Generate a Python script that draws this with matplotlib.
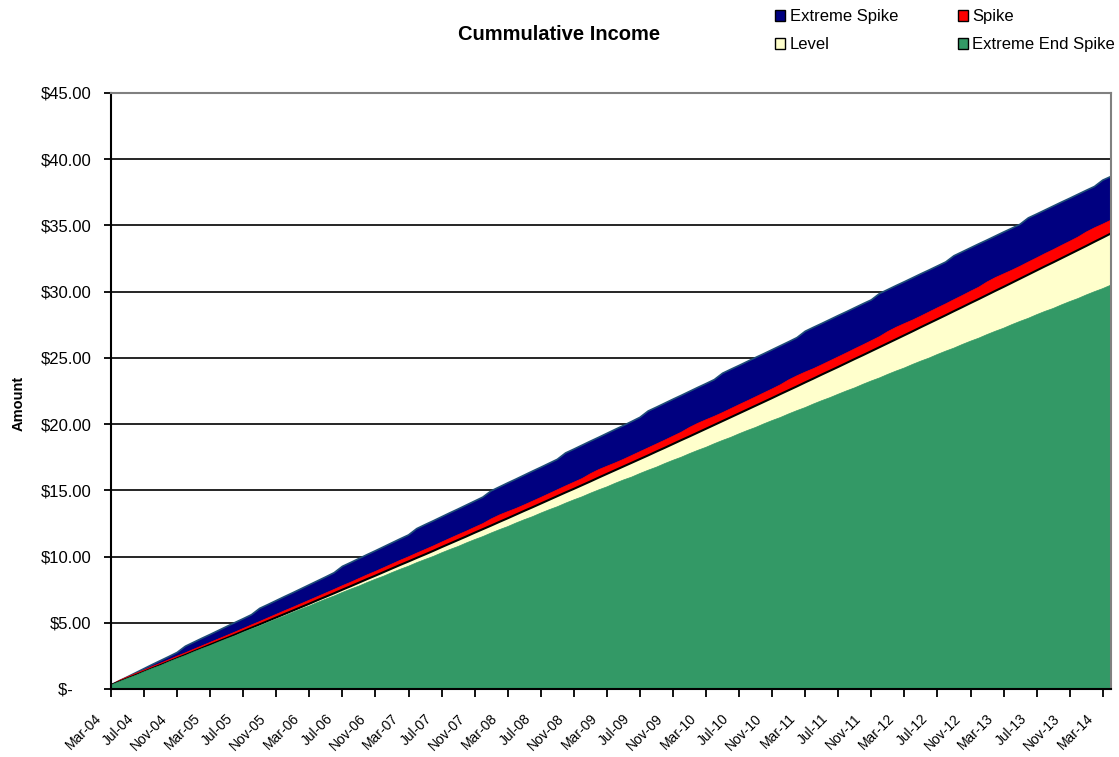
import matplotlib
matplotlib.use("Agg")
import matplotlib.pyplot as plt
import matplotlib.transforms as mtransforms
from matplotlib.patches import Patch
import pandas as pd
import numpy as np

plt.rcParams['font.family'] = ['Liberation Sans', 'DejaVu Sans']

# ---------------- data ----------------
months = list(pd.date_range('2004-03-01', periods=122, freq='MS').strftime('%b-%y'))

extreme_spike = [
    0.30, 0.62, 0.92, 1.23, 1.54, 1.85, 2.15, 2.45, 2.76, 3.23,
    3.53, 3.83, 4.12, 4.42, 4.72, 5.02, 5.31, 5.61, 6.09, 6.38,
    6.68, 6.98, 7.27, 7.57, 7.87, 8.17, 8.47, 8.78, 9.26, 9.55,
    9.85, 10.15, 10.44, 10.74, 11.04, 11.34, 11.63, 12.11, 12.41, 12.70,
    13.00, 13.30, 13.59, 13.89, 14.19, 14.49, 14.96, 15.26, 15.56, 15.85,
    16.15, 16.45, 16.74, 17.04, 17.34, 17.82, 18.11, 18.41, 18.71, 19.00,
    19.30, 19.60, 19.89, 20.20, 20.51, 20.99, 21.28, 21.58, 21.88, 22.17,
    22.47, 22.77, 23.06, 23.36, 23.84, 24.14, 24.43, 24.73, 25.03, 25.32,
    25.62, 25.92, 26.22, 26.53, 27.01, 27.31, 27.60, 27.90, 28.20, 28.49,
    28.79, 29.09, 29.38, 29.86, 30.16, 30.46, 30.75, 31.05, 31.35, 31.64,
    31.94, 32.24, 32.71, 33.01, 33.31, 33.61, 33.90, 34.20, 34.50, 34.79,
    35.09, 35.57, 35.86, 36.16, 36.46, 36.76, 37.05, 37.35, 37.65, 37.94,
    38.42, 38.70]

spike = [
    0.32, 0.65, 0.92, 1.18, 1.43, 1.70, 1.95, 2.21, 2.48, 2.73,
    3.00, 3.26, 3.52, 3.78, 4.04, 4.30, 4.57, 4.84, 5.10, 5.37,
    5.64, 5.91, 6.17, 6.44, 6.71, 6.98, 7.25, 7.52, 7.80, 8.06,
    8.34, 8.62, 8.88, 9.16, 9.44, 9.72, 9.98, 10.26, 10.53, 10.80,
    11.09, 11.37, 11.65, 11.92, 12.21, 12.49, 12.84, 13.14, 13.39, 13.63,
    13.90, 14.18, 14.46, 14.75, 15.04, 15.33, 15.61, 15.89, 16.25, 16.56,
    16.82, 17.07, 17.34, 17.63, 17.92, 18.21, 18.50, 18.79, 19.09, 19.39,
    19.75, 20.06, 20.33, 20.59, 20.87, 21.17, 21.47, 21.76, 22.06, 22.36,
    22.66, 22.97, 23.34, 23.65, 23.93, 24.19, 24.48, 24.78, 25.08, 25.38,
    25.69, 25.99, 26.30, 26.61, 26.99, 27.31, 27.59, 27.86, 28.16, 28.47,
    28.78, 29.08, 29.40, 29.71, 30.03, 30.34, 30.73, 31.06, 31.34, 31.62,
    31.92, 32.24, 32.55, 32.87, 33.17, 33.49, 33.80, 34.12, 34.50, 34.82,
    35.10, 35.40]

level = [
    0.30, 0.55, 0.80, 1.05, 1.30, 1.56, 1.81, 2.06, 2.32, 2.57,
    2.83, 3.08, 3.34, 3.59, 3.84, 4.10, 4.36, 4.62, 4.88, 5.14,
    5.40, 5.66, 5.92, 6.18, 6.44, 6.71, 6.97, 7.23, 7.50, 7.76,
    8.03, 8.30, 8.56, 8.83, 9.10, 9.37, 9.63, 9.90, 10.16, 10.43,
    10.71, 10.98, 11.25, 11.52, 11.80, 12.07, 12.34, 12.62, 12.89, 13.17,
    13.45, 13.72, 14.00, 14.28, 14.56, 14.84, 15.11, 15.39, 15.67, 15.96,
    16.24, 16.52, 16.80, 17.08, 17.36, 17.64, 17.93, 18.21, 18.50, 18.79,
    19.07, 19.36, 19.65, 19.94, 20.23, 20.52, 20.81, 21.10, 21.39, 21.68,
    21.97, 22.27, 22.56, 22.85, 23.15, 23.44, 23.74, 24.03, 24.32, 24.62,
    24.92, 25.21, 25.51, 25.81, 26.11, 26.41, 26.71, 27.01, 27.32, 27.62,
    27.92, 28.22, 28.53, 28.83, 29.14, 29.44, 29.75, 30.06, 30.36, 30.67,
    30.98, 31.29, 31.60, 31.91, 32.21, 32.52, 32.83, 33.14, 33.45, 33.77,
    34.08, 34.40]

extreme_end_spike = [
    0.30, 0.55, 0.80, 1.03, 1.30, 1.55, 1.78, 2.05, 2.30, 2.53,
    2.80, 3.05, 3.28, 3.54, 3.79, 4.02, 4.29, 4.54, 4.77, 5.04,
    5.29, 5.52, 5.79, 6.04, 6.27, 6.54, 6.79, 7.02, 7.29, 7.54,
    7.77, 8.04, 8.29, 8.52, 8.79, 9.04, 9.27, 9.54, 9.78, 10.01,
    10.28, 10.53, 10.76, 11.03, 11.28, 11.51, 11.78, 12.03, 12.26, 12.53,
    12.78, 13.01, 13.28, 13.53, 13.76, 14.03, 14.28, 14.51, 14.78, 15.03,
    15.26, 15.53, 15.78, 16.00, 16.27, 16.52, 16.75, 17.02, 17.27, 17.50,
    17.77, 18.02, 18.25, 18.52, 18.77, 19.00, 19.27, 19.52, 19.75, 20.02,
    20.27, 20.50, 20.77, 21.02, 21.25, 21.52, 21.77, 22.00, 22.26, 22.51,
    22.74, 23.01, 23.26, 23.49, 23.76, 24.01, 24.24, 24.51, 24.76, 24.99,
    25.26, 25.51, 25.74, 26.01, 26.26, 26.49, 26.76, 27.01, 27.24, 27.51,
    27.76, 27.99, 28.26, 28.51, 28.73, 29.00, 29.25, 29.48, 29.75, 30.00,
    30.23, 30.50]

series_names = ['Extreme Spike', 'Spike', 'Level', 'Extreme End Spike']
y_ticks = [0, 5, 10, 15, 20, 25, 30, 35, 40, 45]

# ---------------- figure ----------------
W, H = 1119, 757
fig = plt.figure(figsize=(W / 100, H / 100), dpi=100)
ax = fig.add_axes([111 / W, 1 - 689 / H, 1000 / W, 596 / H])

x = np.arange(len(months))

fill_specs = [
    (extreme_spike, '#000080', '#1F4E79', 1.2),
    (spike, '#FF0000', '#FF0000', 0.5),
    (level, '#FFFFCC', '#000000', 1.5),
    (extreme_end_spike, '#339966', '#339966', 0.5),
]
z = 2
for vals, fc, ec, lw in fill_specs:
    ax.fill_between(x, 0, vals, facecolor=fc, edgecolor='none', zorder=z)
    ax.plot(x, vals, color=ec, lw=lw, zorder=z + 0.5, solid_joinstyle='round')
    z += 1

ax.set_xlim(0, len(months) - 1)
ax.set_ylim(0, 45)

# grid
ax.set_yticks(y_ticks)
for yv in y_ticks[1:-1]:
    ax.axhline(yv, color='black', lw=1.2, zorder=1)

def fmt(v):
    return '$-    ' if v == 0 else '${:.2f}'.format(v)
ax.set_yticklabels([fmt(v) for v in y_ticks], fontsize=12)
ax.tick_params(axis='y', direction='out', length=5, width=1.3, pad=9, colors='black')

tick_pos = list(range(0, len(months), 4))
ax.set_xticks(tick_pos)
ax.set_xticklabels([months[i] for i in tick_pos], fontsize=10, rotation=45,
                   ha='right', va='top', rotation_mode='anchor')
ax.tick_params(axis='x', direction='out', length=6, width=1.3, pad=10)
offset = mtransforms.ScaledTranslation(-0.17, 0.0, fig.dpi_scale_trans)
for lab in ax.get_xticklabels():
    lab.set_transform(lab.get_transform() + offset)

for side in ['left', 'bottom']:
    ax.spines[side].set_color('black')
    ax.spines[side].set_linewidth(1.5)
for side in ['top', 'right']:
    ax.spines[side].set_color('#808080')
    ax.spines[side].set_linewidth(1.5)
for s in ax.spines.values():
    s.set_zorder(10)

ax.set_ylabel('Amount', fontsize=10.5, fontweight='bold')
ax.yaxis.set_label_coords(-85 / 1000, (689 - 403) / 596)

fig.text(559 / W, 1 - 35 / H, 'Cummulative Income', ha='center', va='center',
         fontsize=14.5, fontweight='bold')

colors = ['#000080', '#FF0000', '#FFFFCC', '#339966']
handles = [Patch(facecolor=c, edgecolor='black', linewidth=1.0) for c in colors]
order = [0, 2, 1, 3]
fig.legend([handles[i] for i in order], [series_names[i] for i in order],
           loc='upper left', bbox_to_anchor=(772 / W, 1 - 6 / H), ncol=2,
           frameon=False, fontsize=12, handlelength=0.6, handleheight=0.6,
           handletextpad=0.25, columnspacing=3.6, labelspacing=0.78,
           borderaxespad=0, borderpad=0.2)

fig.savefig('out.png', dpi=100)
